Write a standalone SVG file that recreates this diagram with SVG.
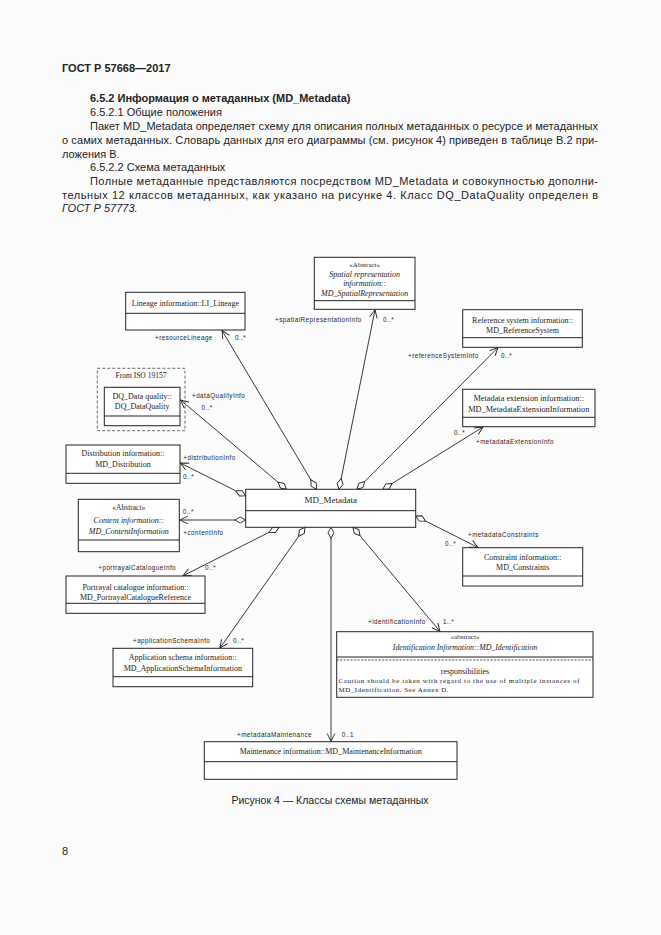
<svg xmlns="http://www.w3.org/2000/svg" width="661" height="935" viewBox="0 0 661 935">
<style>
.p{font-family:"Liberation Sans",Arial,sans-serif;font-size:11px;fill:#222}
.b{font-weight:bold}
.i{font-style:italic}
.t{font-family:"Liberation Serif","Times New Roman",serif;font-size:8px;fill:#222;text-anchor:middle}
.ti{font-style:italic}
.l{font-family:"Liberation Sans",Arial,sans-serif;font-size:6.3px;letter-spacing:0.45px;fill:#222}
.box{fill:#fff;stroke:#222;stroke-width:1}
.div{stroke:#222;stroke-width:1}
.c{stroke:#222;stroke-width:0.9;fill:none}
</style>
<defs>
<marker id="dia" markerUnits="userSpaceOnUse" markerWidth="14" markerHeight="8" viewBox="-1 -4 14 8" refX="0" refY="0" orient="auto">
<path d="M0,0 L5.5,-3 L11,0 L5.5,3 Z" fill="#fff" stroke="#222" stroke-width="0.9"/>
</marker>
<marker id="arr" markerUnits="userSpaceOnUse" markerWidth="12" markerHeight="10" viewBox="-10 -5 12 10" refX="0" refY="0" orient="auto">
<path d="M-8,-3.8 L0,0 L-8,3.8" fill="none" stroke="#222" stroke-width="0.9"/>
</marker>
</defs>
<rect x="0" y="0" width="661" height="935" fill="#fcfcfc"/>

<g id="page-text">
<text class="p b" x="62" y="71.5">ГОСТ Р 57668—2017</text>
<text class="p b" x="90" y="102">6.5.2 Информация о метаданных (MD_Metadata)</text>
<text class="p" x="90" y="116">6.5.2.1 Общие положения</text>
<text class="p" x="90" y="130" textLength="508" lengthAdjust="spacing">Пакет MD_Metadata определяет схему для описания полных метаданных о ресурсе и метаданных</text>
<text class="p" x="62" y="143.8" textLength="536" lengthAdjust="spacing">о самих метаданных. Словарь данных для его диаграммы (см. рисунок 4) приведен в таблице В.2 при-</text>
<text class="p" x="62" y="157.5">ложения В.</text>
<text class="p" x="90" y="171">6.5.2.2 Схема метаданных</text>
<text class="p" x="90" y="185" textLength="508" lengthAdjust="spacing">Полные метаданные представляются посредством MD_Metadata и совокупностью дополни-</text>
<text class="p" x="62" y="198.5" textLength="536" lengthAdjust="spacing">тельных 12 классов метаданных, как указано на рисунке 4. Класс DQ_DataQuality определен в</text>
<text class="p i" x="62" y="212">ГОСТ Р 57773.</text>
<text class="p" x="330" y="804" text-anchor="middle" style="font-size:10.5px">Рисунок 4 — Классы схемы метаданных</text>
<text class="p" x="62" y="855">8</text>
</g>

<g id="connectors">
<line class="c" x1="286.5" y1="489.3" x2="180.5" y2="400" marker-start="url(#dia)" marker-end="url(#arr)"/>
<line class="c" x1="316.5" y1="489.3" x2="222" y2="330.5" marker-start="url(#dia)" marker-end="url(#arr)"/>
<line class="c" x1="339" y1="489.3" x2="375" y2="309.8" marker-start="url(#dia)" marker-end="url(#arr)"/>
<line class="c" x1="357" y1="489.3" x2="498" y2="347.6" marker-start="url(#dia)" marker-end="url(#arr)"/>
<line class="c" x1="382.8" y1="489.3" x2="483" y2="427" marker-start="url(#dia)" marker-end="url(#arr)"/>
<line class="c" x1="245.7" y1="495.8" x2="180.3" y2="463" marker-start="url(#dia)" marker-end="url(#arr)"/>
<line class="c" x1="245.7" y1="520" x2="179.8" y2="520" marker-start="url(#dia)" marker-end="url(#arr)"/>
<line class="c" x1="415.7" y1="516" x2="478" y2="547.5" marker-start="url(#dia)" marker-end="url(#arr)"/>
<line class="c" x1="279" y1="527.3" x2="183" y2="575.8" marker-start="url(#dia)" marker-end="url(#arr)"/>
<line class="c" x1="305" y1="527.3" x2="220" y2="648" marker-start="url(#dia)" marker-end="url(#arr)"/>
<line class="c" x1="331" y1="527.3" x2="331" y2="741.5" marker-start="url(#dia)" marker-end="url(#arr)"/>
<line class="c" x1="353" y1="527.3" x2="440" y2="631.5" marker-start="url(#dia)" marker-end="url(#arr)"/>
<text class="l" x="155" y="340">+resourceLineage</text>
<text class="l" x="235" y="340">0..*</text>
<text class="l" x="275" y="322">+spatialRepresentationInfo</text>
<text class="l" x="383" y="322">0..*</text>
<text class="l" x="408" y="358">+referenceSystemInfo</text>
<text class="l" x="501" y="358">0..*</text>
<text class="l" x="454" y="435">0..*</text>
<text class="l" x="476" y="444">+metadataExtensionInfo</text>
<text class="l" x="192" y="398">+dataQualityInfo</text>
<text class="l" x="201.5" y="410">0..*</text>
<text class="l" x="183.3" y="460">+distributionInfo</text>
<text class="l" x="183" y="479">0..*</text>
<text class="l" x="182.7" y="514">0..*</text>
<text class="l" x="183.3" y="535">+contentInfo</text>
<text class="l" x="98.3" y="570">+portrayalCatalogueInfo</text>
<text class="l" x="205" y="570">0..*</text>
<text class="l" x="133" y="643">+applicationSchemaInfo</text>
<text class="l" x="233" y="643">0..*</text>
<text class="l" x="468" y="537">+metadataConstraints</text>
<text class="l" x="445" y="546">0..*</text>
<text class="l" x="368" y="624">+identificationInfo</text>
<text class="l" x="443" y="624">1..*</text>
<text class="l" x="237" y="737">+metadataMaintenance</text>
<text class="l" x="341.7" y="737">0..1</text>
</g>

<g id="md-metadata">
<rect class="box" x="245.7" y="489.3" width="170" height="38"/>
<line class="div" x1="245.7" y1="510.7" x2="415.7" y2="510.7"/>
<text class="t" x="330.7" y="503" style="font-size:9px">MD_Metadata</text>
</g>

<g id="lineage">
<rect class="box" x="125.7" y="292.3" width="119.3" height="37.7"/>
<line class="div" x1="125.7" y1="313.3" x2="245" y2="313.3"/>
<text class="t" x="185.3" y="306">Lineage information::LI_Lineage</text>
</g>

<g id="spatial">
<rect class="box" x="314.3" y="257.3" width="100.7" height="52"/>
<line class="div" x1="314.3" y1="300.7" x2="415" y2="300.7"/>
<text class="t" x="364.7" y="266.5" style="font-size:7px">«Abstract»</text>
<text class="t ti" x="364.7" y="276.5">Spatial representation</text>
<text class="t ti" x="364.7" y="286">information::</text>
<text class="t ti" x="364.7" y="296">MD_SpatialRepresentation</text>
</g>

<g id="refsys">
<rect class="box" x="462.7" y="309.7" width="119.6" height="37.6"/>
<line class="div" x1="462.7" y1="337.7" x2="582.3" y2="337.7"/>
<text class="t" x="522.5" y="322.5">Reference system information::</text>
<text class="t" x="522.5" y="332.5">MD_ReferenceSystem</text>
</g>

<g id="metaext">
<rect class="box" x="462.7" y="389.3" width="132.3" height="37.4"/>
<line class="div" x1="462.7" y1="417.3" x2="595" y2="417.3"/>
<text class="t" x="528.8" y="401" style="font-size:8.3px">Metadata extension information::</text>
<text class="t" x="528.8" y="411.5" style="font-size:8.3px">MD_MetadataExtensionInformation</text>
</g>

<g id="dq-package">
<rect x="97.3" y="368.3" width="87.7" height="62.4" fill="none" stroke="#444" stroke-width="0.8" stroke-dasharray="3,2"/>
<text class="t" x="141" y="377.5" style="font-size:7.5px">From ISO 19157</text>
</g>
<g id="dq">
<rect class="box" x="104.3" y="387.3" width="75.7" height="38.4"/>
<line class="div" x1="104.3" y1="416" x2="180" y2="416"/>
<text class="t" x="142.2" y="398.5">DQ_Data quality::</text>
<text class="t" x="142.2" y="409">DQ_DataQuality</text>
</g>

<g id="distribution">
<rect class="box" x="66" y="445" width="114" height="38.3"/>
<line class="div" x1="66" y1="473.3" x2="180" y2="473.3"/>
<text class="t" x="123" y="456">Distribution information::</text>
<text class="t" x="123" y="466.8">MD_Distribution</text>
</g>

<g id="content">
<rect class="box" x="78.3" y="499.3" width="101" height="52.4"/>
<line class="div" x1="78.3" y1="540" x2="179.3" y2="540"/>
<text class="t" x="128.8" y="509.8" style="font-size:7.5px">«Abstract»</text>
<text class="t ti" x="128.8" y="522.5">Content information::</text>
<text class="t ti" x="128.8" y="534">MD_ContentInformation</text>
</g>

<g id="portrayal">
<rect class="box" x="66" y="576" width="139" height="37.3"/>
<line class="div" x1="66" y1="603.3" x2="205" y2="603.3"/>
<text class="t" x="135.5" y="590">Portrayal catalogue information::</text>
<text class="t" x="135.5" y="600">MD_PortrayalCatalogueReference</text>
</g>

<g id="application">
<rect class="box" x="113" y="648.3" width="139.7" height="38.4"/>
<line class="div" x1="113" y1="676.7" x2="252.7" y2="676.7"/>
<text class="t" x="182.8" y="660.3">Application schema information::</text>
<text class="t" x="182.8" y="671">MD_ApplicationSchemaInformation</text>
</g>

<g id="constraint">
<rect class="box" x="462.7" y="547.7" width="120" height="38.3"/>
<line class="div" x1="462.7" y1="576" x2="582.7" y2="576"/>
<text class="t" x="522.7" y="560">Constraint information::</text>
<text class="t" x="522.7" y="570">MD_Constraints</text>
</g>

<g id="identification">
<rect class="box" x="336.7" y="631.7" width="256.3" height="65.6"/>
<line class="div" x1="336.7" y1="657" x2="593" y2="657"/>
<line x1="336.7" y1="660" x2="593" y2="660" stroke="#222" stroke-width="0.8" stroke-dasharray="2,1.5"/>
<text class="t" x="465" y="639" style="font-size:7px">«abstract»</text>
<text class="t ti" x="465" y="650" style="font-size:7.8px">Identification Information::MD_Identification</text>
<text class="t" x="465" y="674">responsibilities</text>
<text class="t" x="338.5" y="683" style="font-size:7px;text-anchor:start" textLength="241" lengthAdjust="spacing">Caution should be taken with regard to the use of multiple instances of</text>
<text class="t" x="338.5" y="691.5" style="font-size:7px;text-anchor:start" textLength="110" lengthAdjust="spacing">MD_Identification. See Annex D.</text>
</g>

<g id="maintenance">
<rect class="box" x="204.3" y="741.7" width="252.7" height="37.6"/>
<line class="div" x1="204.3" y1="761.7" x2="457" y2="761.7"/>
<text class="t" x="330.7" y="753.5">Maintenance information::MD_MaintenanceInformation</text>
</g>
</svg>
